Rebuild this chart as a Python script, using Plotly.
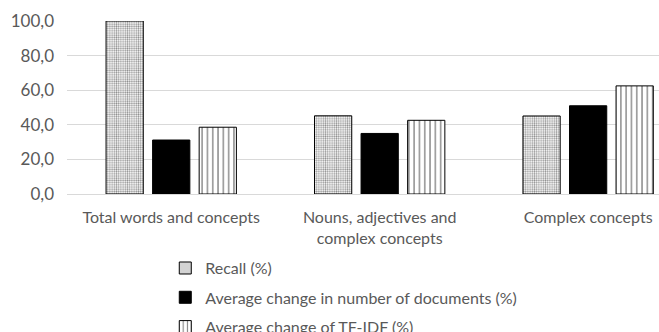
import plotly.graph_objects as go

categories = ["Total words and concepts", "Nouns, adjectives and<br>complex concepts", "Complex concepts"]
recall = [100.0, 45.2, 45.1]
avg_docs = [31.2, 35.0, 51.0]
avg_tfidf = [38.6, 42.6, 62.5]
series_names = ["Recall (%)", "Average change in number of documents (%)", "Average change of TF-IDF (%)"]

FONT = "Lato"
GRAY = "#595959"

fig = go.Figure()
fig.add_trace(go.Bar(
    x=categories, y=recall, name=series_names[0], legendgroup="a",
    marker=dict(color="white", line=dict(color="black", width=1),
                pattern=dict(shape=".", fgcolor="#222222", bgcolor="white", size=2.2, solidity=0.45)),
))
fig.add_trace(go.Bar(
    x=categories, y=avg_docs, name=series_names[1], legendgroup="b",
    marker=dict(color="black", line=dict(color="black", width=1)),
))
fig.add_trace(go.Bar(
    x=categories, y=avg_tfidf, name=series_names[2], legendgroup="c",
    marker=dict(color="white", line=dict(color="black", width=1),
                pattern=dict(shape="|", fgcolor="black", bgcolor="white", size=5.3, solidity=0.25)),
))

fig.update_layout(
    width=659, height=332,
    margin=dict(l=67, r=0, t=21, b=138, autoexpand=False),
    plot_bgcolor="white", paper_bgcolor="white",
    separators=",.",
    barmode="group", bargap=0.33, bargroupgap=0.2,
    font=dict(family=FONT, size=16, color=GRAY),
    showlegend=True,
    legend=dict(
        orientation="v", x=0.166, xanchor="left", y=-0.33, yanchor="top",
        font=dict(family=FONT, size=16, color=GRAY),
        tracegroupgap=5.5, itemwidth=30, traceorder="grouped",
        maxheight=200,
        bgcolor="rgba(0,0,0,0)",
    ),
    xaxis=dict(
        range=[-0.5, 2.34], showgrid=False, showline=False, ticks="",
        ticklabelstandoff=12, automargin=False,
        tickfont=dict(family=FONT, size=16, color=GRAY),
    ),
    yaxis=dict(
        range=[0, 100], tickvals=[0, 20, 40, 60, 80, 100], tickformat=".1f",
        showgrid=True, gridcolor="#d9d9d9", gridwidth=1,
        zeroline=True, zerolinecolor="#d9d9d9", zerolinewidth=1,
        showline=False, ticks="", ticklabelstandoff=12, automargin=False,
        tickfont=dict(family=FONT, size=17, color=GRAY),
    ),
)

fig.write_html("out.html")
